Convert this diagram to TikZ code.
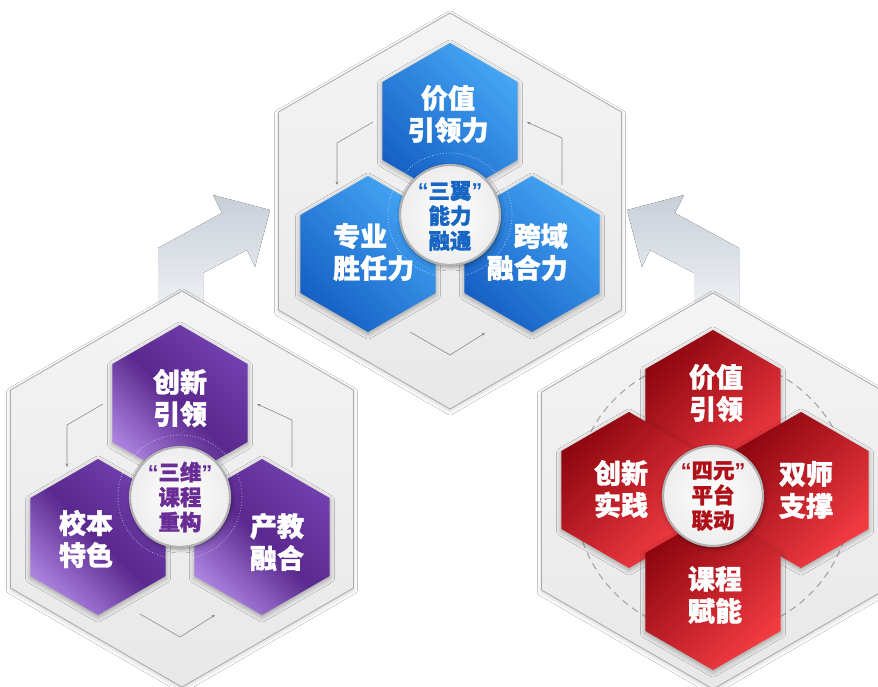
\documentclass[tikz,border=0pt]{standalone}
\usepackage{fontspec}
\newfontfamily\cjk{Noto Sans CJK SC}[BoldFeatures={FakeBold=1.3}]
\newfontfamily\latq{Liberation Sans}
\usetikzlibrary{shapes.geometric,shadows.blur,arrows.meta}
\definecolor{blueL}{HTML}{45A6F5}
\definecolor{blueD}{HTML}{1660C4}
\definecolor{purT}{HTML}{7240AE}
\definecolor{purM}{HTML}{5A288E}
\definecolor{purB}{HTML}{AC82E0}
\definecolor{redT}{HTML}{8E0610}
\definecolor{redB}{HTML}{F43C42}
\definecolor{blueTxt}{HTML}{1766C4}
\definecolor{purTxt}{HTML}{6A2D95}
\definecolor{redTxt}{HTML}{B01018}
\definecolor{bgTop}{HTML}{F4F4F4}
\definecolor{bgBot}{HTML}{E8E8E8}
\definecolor{hexLine}{HTML}{AAAAAA}
\definecolor{arrTop}{HTML}{C8CFD8}
\definecolor{arrBot}{HTML}{F2F4F6}
\definecolor{connCol}{HTML}{8A8A8A}
\newcommand\oqt{{\latq\bfseries “}}
\newcommand\cqt{{\latq\bfseries ”}}
\tikzset{
  bighex/.style={regular polygon, regular polygon sides=6, shape border rotate=30,
    minimum size=396pt, inner sep=0pt, outer sep=0pt, draw=hexLine, line width=0.8pt,
    top color=bgTop, bottom color=bgBot,
    blur shadow={shadow xshift=0pt, shadow yshift=-2pt, shadow blur radius=4pt, shadow opacity=18}},
  smallhex/.style={regular polygon, regular polygon sides=6, shape border rotate=30,
    minimum size=156pt, inner sep=0pt, outer sep=0pt,
    blur shadow={shadow xshift=0pt, shadow yshift=-2pt, shadow blur radius=5pt, shadow opacity=35}},
  hexblue/.style={smallhex, top color=blueL, bottom color=blueD, shading angle=-45},
  hexpur/.style={smallhex, top color=purT, bottom color=purB, middle color=purM, shading angle=-45},
  hexred/.style={smallhex, top color=redT, bottom color=redB, shading angle=45},
  arrowfill/.style={top color=arrTop, bottom color=arrBot},
  conn/.style={draw=connCol, line width=0.6pt, -{Stealth[length=3.5pt,width=3pt]}},
  ring/.style={draw=white, opacity=0.55, line width=0.8pt, dotted},
  circ/.style={circle, minimum size=100pt, inner sep=0pt, draw=gray!60, line width=2.2pt,
    inner color=white, outer color=gray!14,
    blur shadow={shadow xshift=1pt, shadow yshift=-2pt, shadow blur radius=4pt, shadow opacity=45}},
  lbl/.style={text=white, font=\cjk\bfseries\fontsize{27}{32}\selectfont, align=center, inner sep=0pt},
  ctrtxt/.style={font=\cjk\bfseries\fontsize{21.5}{25}\selectfont, align=center, inner sep=0pt},
}
\begin{document}
\begin{tikzpicture}[x=1pt,y=-1pt]
\useasboundingbox[fill=white] (0,0) rectangle (878,687);

% big grey arrows
\fill[arrowfill] (158,320) -- (158,248) -- (222,213) -- (213,195) -- (270,210)
  -- (255,267) -- (247,250) -- (203,273) -- (203,320) -- cycle;
\fill[arrowfill] (739,320) -- (739,248) -- (675,213) -- (684,195) -- (627,210)
  -- (642,267) -- (650,250) -- (694,273) -- (694,320) -- cycle;

% big hexagons
\node[bighex] (P) at (182,489) {};
\node[bighex] (R) at (713,491) {};
\node[bighex] (T) at (450,211) {};

% ---------- blue group ----------
\coordinate (bl1) at (373,122); \coordinate (bl2) at (337,143); \coordinate (bl3) at (337,185);
\coordinate (br1) at (562,185); \coordinate (br2) at (562,138); \coordinate (br3) at (527,122);
\coordinate (bb1) at (410,332); \coordinate (bb2) at (450,355); \coordinate (bb3) at (485,333);
\draw[conn] (bl1) -- (bl2) -- (bl3);
\draw[conn] (br1) -- (br2) -- (br3);
\draw[conn] (bb1) -- (bb2) -- (bb3);
\node[hexblue] (b1) at (450,121) {};
\node[hexblue] (b2) at (368,254) {};
\node[hexblue] (b3) at (532,254) {};
\draw[ring] (450,215) circle (62pt);
\node[circ] (bc) at (450,215) {};
\node[ctrtxt, text=blueTxt] (bct) at (450,216) {\oqt 三翼\cqt\\能力\\融通};
\node[lbl] (b1t) at (448,114) {价值\\引领力};
\node[lbl, anchor=west, align=left] (b2t) at (333,252) {专业\\胜任力};
\node[lbl, anchor=east, align=right] (b3t) at (568,252) {跨域\\融合力};

% ---------- purple group ----------
\coordinate (pl1) at (103,404); \coordinate (pl2) at (67,425); \coordinate (pl3) at (67,467);
\coordinate (pr1) at (292,467); \coordinate (pr2) at (292,420); \coordinate (pr3) at (257,404);
\coordinate (pb1) at (140,614); \coordinate (pb2) at (180,637); \coordinate (pb3) at (215,615);
\draw[conn] (pl1) -- (pl2) -- (pl3);
\draw[conn] (pr1) -- (pr2) -- (pr3);
\draw[conn] (pb1) -- (pb2) -- (pb3);
\node[hexpur] (p1) at (180,403) {};
\node[hexpur] (p2) at (98,537) {};
\node[hexpur] (p3) at (262,537) {};
\draw[ring] (180,497) circle (62pt);
\node[circ] (pc) at (180,497) {};
\node[ctrtxt, text=purTxt] (pct) at (180,497) {\oqt 三维\cqt\\课程\\重构};
\node[lbl] (p1t) at (180,398) {创新\\引领};
\node[lbl] (p2t) at (86,539) {校本\\特色};
\node[lbl] (p3t) at (277,542) {产教\\融合};

% ---------- red group ----------
\draw[draw=gray!70, line width=1.1pt, dash pattern=on 7pt off 5pt] (713,496) circle (138pt);
\node[hexred] (r1) at (713,408) {};
\node[hexred] (r2) at (629,490) {};
\node[hexred] (r3) at (801,490) {};
\node[hexred] (r4) at (713,592) {};
\node[circ] (rc) at (713,496) {};
\node[ctrtxt, text=redTxt] (rct) at (713,496) {\oqt 四元\cqt\\平台\\联动};
\node[lbl] (r1t) at (716,393) {价值\\引领};
\node[lbl] (r2t) at (621,489) {创新\\实践};
\node[lbl] (r3t) at (806,490) {双师\\支撑};
\node[lbl] (r4t) at (715,595) {课程\\赋能};
\end{tikzpicture}
\end{document}
